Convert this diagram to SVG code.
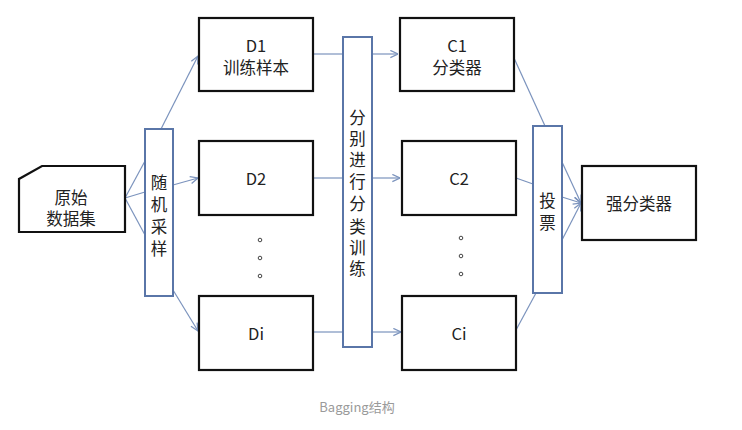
<svg xmlns="http://www.w3.org/2000/svg" width="742" height="430" viewBox="0 0 742 430">
<defs>
<style>
.box{fill:#fff;stroke:#111;stroke-width:2.2}
.bar{fill:#fff;stroke:#5a76a8;stroke-width:2}
.t{font-family:"Noto Sans CJK SC","Liberation Sans",sans-serif;font-size:16.5px;fill:#222;text-anchor:middle;dominant-baseline:central}
.cap{font-family:"Noto Sans CJK SC","Liberation Sans",sans-serif;font-size:13px;fill:#9a9a9a;text-anchor:middle}
.c{stroke:#7b93bd;stroke-width:1.2;fill:none}
.dot{fill:none;stroke:#444;stroke-width:1}
</style>
<marker id="a" viewBox="0 0 10 10" refX="9.5" refY="5" markerWidth="9" markerHeight="9" markerUnits="userSpaceOnUse" orient="auto">
<path d="M1,1 L9.5,5 L1,9" fill="none" stroke="#7b93bd" stroke-width="1.4"/>
</marker>
</defs>
<rect width="742" height="430" fill="#fff"/>
<g id="connectors">
<line class="c" x1="125" y1="198" x2="145" y2="161"/>
<line class="c" x1="125" y1="198" x2="145" y2="192"/>
<line class="c" x1="125" y1="198" x2="145" y2="235"/>
<line class="c" x1="161" y1="129" x2="198" y2="56" marker-end="url(#a)"/>
<line class="c" x1="173" y1="185" x2="198" y2="178" marker-end="url(#a)"/>
<line class="c" x1="173" y1="290" x2="198" y2="331" marker-end="url(#a)"/>
<line class="c" x1="313" y1="54" x2="343" y2="54"/>
<line class="c" x1="313" y1="178" x2="343" y2="178"/>
<line class="c" x1="313" y1="332" x2="343" y2="332"/>
<line class="c" x1="372" y1="54" x2="398" y2="54" marker-end="url(#a)"/>
<line class="c" x1="372" y1="178" x2="400" y2="178" marker-end="url(#a)"/>
<line class="c" x1="372" y1="332" x2="401" y2="332" marker-end="url(#a)"/>
<line class="c" x1="514" y1="58" x2="545" y2="126"/>
<line class="c" x1="516" y1="178" x2="533" y2="184"/>
<line class="c" x1="516" y1="330" x2="536" y2="293"/>
<line class="c" x1="562" y1="162" x2="581" y2="203" marker-end="url(#a)"/>
<line class="c" x1="562" y1="197" x2="581" y2="203" marker-end="url(#a)"/>
<line class="c" x1="562" y1="240" x2="581" y2="203" marker-end="url(#a)"/>
</g>
<g id="n-raw">
<path class="box" d="M42,166 L125,166 L125,232 L19,232 L19,179 Z"/>
<text class="t" x="71" y="197">原始</text>
<text class="t" x="71" y="218">数据集</text>
</g>
<g id="n-sample">
<rect class="bar" x="145" y="129" width="28" height="167"/>
<text class="t" x="159" y="182">随</text>
<text class="t" x="159" y="204">机</text>
<text class="t" x="159" y="226">采</text>
<text class="t" x="159" y="248">样</text>
</g>
<g id="n-d1">
<rect class="box" x="199" y="18" width="114" height="73"/>
<text class="t" x="256" y="45">D1</text>
<text class="t" x="256" y="67">训练样本</text>
</g>
<g id="n-d2">
<rect class="box" x="199" y="141" width="114" height="74"/>
<text class="t" x="256" y="178">D2</text>
</g>
<g id="n-ddots">
<circle class="dot" cx="260" cy="240" r="1.8"/>
<circle class="dot" cx="260" cy="258" r="1.8"/>
<circle class="dot" cx="260" cy="276" r="1.8"/>
</g>
<g id="n-di">
<rect class="box" x="199" y="296" width="114" height="74"/>
<text class="t" x="256" y="333">Di</text>
</g>
<g id="n-train">
<rect class="bar" x="343" y="37" width="29" height="310"/>
<text class="t" x="357.5" y="117">分</text>
<text class="t" x="357.5" y="138">别</text>
<text class="t" x="357.5" y="159">进</text>
<text class="t" x="357.5" y="181">行</text>
<text class="t" x="357.5" y="203">分</text>
<text class="t" x="357.5" y="226">类</text>
<text class="t" x="357.5" y="247">训</text>
<text class="t" x="357.5" y="268">练</text>
</g>
<g id="n-c1">
<rect class="box" x="400" y="18" width="114" height="73"/>
<text class="t" x="457" y="45">C1</text>
<text class="t" x="457" y="67">分类器</text>
</g>
<g id="n-c2">
<rect class="box" x="402" y="141" width="114" height="74"/>
<text class="t" x="459" y="178">C2</text>
</g>
<g id="n-cdots">
<circle class="dot" cx="461" cy="238" r="1.8"/>
<circle class="dot" cx="461" cy="256" r="1.8"/>
<circle class="dot" cx="461" cy="274" r="1.8"/>
</g>
<g id="n-ci">
<rect class="box" x="402" y="296" width="114" height="74"/>
<text class="t" x="459" y="333">Ci</text>
</g>
<g id="n-vote">
<rect class="bar" x="533" y="126" width="29" height="167"/>
<text class="t" x="547.5" y="200">投</text>
<text class="t" x="547.5" y="222">票</text>
</g>
<g id="n-strong">
<rect class="box" x="582" y="166" width="114" height="74"/>
<text class="t" x="639" y="203">强分类器</text>
</g>
<text class="cap" x="357" y="412">Bagging结构</text>
</svg>
